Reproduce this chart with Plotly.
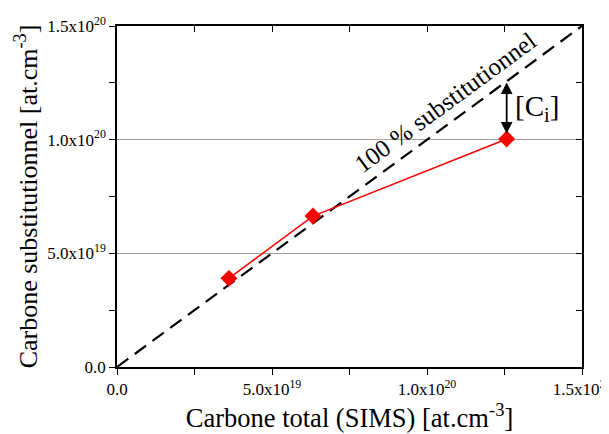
import plotly.graph_objects as go

# Data
carbone_total = [3.61e19, 6.32e19, 1.257e20]
carbone_subst = [3.90e19, 6.64e19, 1.003e20]
ref_x = [0.0, 1.5e20]
ref_y = [0.0, 1.5e20]

x_tickvals = [0.0, 5.0e19, 1.0e20, 1.5e20]
x_ticktext = ["0.0", "5.0x10<sup>19</sup>", "1.0x10<sup>20</sup>", "1.5x10<sup>20</sup>"]
y_tickvals = [0.0, 5.0e19, 1.0e20, 1.5e20]
y_ticktext = ["0.0", "5.0x10<sup>19</sup>", "1.0x10<sup>20</sup>", "1.5x10<sup>20</sup>"]

ci_x = 1.257e20
ci_top = 1.252e20
ci_bottom = 1.02e20

FONT = "Liberation Serif"

fig = go.Figure()

fig.add_trace(go.Scatter(
    x=ref_x, y=ref_y, mode="lines",
    line=dict(color="black", width=2.2, dash="14px,8px"),
    showlegend=False, hoverinfo="skip"))

fig.add_trace(go.Scatter(
    x=carbone_total, y=carbone_subst, mode="lines+markers",
    line=dict(color="#ff0000", width=1.5),
    marker=dict(symbol="diamond", size=13, color="#ff0000"),
    showlegend=False))

# invisible trace for mirror axes
fig.add_trace(go.Scatter(x=ref_x, y=ref_y, xaxis="x2", yaxis="y2",
                         mode="markers", marker=dict(opacity=0),
                         showlegend=False, hoverinfo="skip"))

rng = [0, 1.5e20]
# page body has an 8px default margin: compensate in figure size/margins
fig.update_layout(
    width=601, height=426,
    margin=dict(l=109, r=27, t=18, b=67, autoexpand=False),
    paper_bgcolor="white", plot_bgcolor="white",
    font=dict(family=FONT, color="black"),
    xaxis=dict(range=rng, tickvals=x_tickvals, ticktext=x_ticktext,
               ticks="outside", ticklen=6, tickwidth=1, tickcolor="black",
               minor=dict(tick0=0, dtick=2.5e19, ticks="outside", ticklen=6,
                          tickwidth=1, tickcolor="black", showgrid=False),
               showline=True, linecolor="black", linewidth=1.5,
               showgrid=False, zeroline=False, automargin=False,
               ticklabeloverflow="allow",
               tickfont=dict(family=FONT, size=17),
               title=dict(text="Carbone total (SIMS) [at.cm<sup>-3</sup>]",
                          font=dict(family=FONT, size=26.5), standoff=2)),
    yaxis=dict(range=rng, tickvals=y_tickvals, ticktext=y_ticktext,
               ticks="outside", ticklen=6, tickwidth=1, tickcolor="black",
               minor=dict(tick0=0, dtick=2.5e19, ticks="outside", ticklen=6,
                          tickwidth=1, tickcolor="black", showgrid=False),
               showline=True, linecolor="black", linewidth=1.5,
               showgrid=True, gridcolor="#a0a0a0", gridwidth=1, zeroline=False,
               automargin=False, ticklabeloverflow="allow",
               tickfont=dict(family=FONT, size=17),
               title=dict(text="Carbone substitutionnel [at.cm<sup>-3</sup>]",
                          font=dict(family=FONT, size=26), standoff=2)),
    xaxis2=dict(range=rng, overlaying="x", side="top", anchor="y",
                tickvals=x_tickvals, ticks="inside", ticklen=6,
                minor=dict(tick0=0, dtick=2.5e19, ticks="inside", ticklen=6,
                           tickcolor="black"),
                showticklabels=False, showline=True, linecolor="black",
                linewidth=1.5, showgrid=False, zeroline=False, tickcolor="black"),
    yaxis2=dict(range=rng, overlaying="y", side="right", anchor="x",
                tickvals=y_tickvals, ticks="inside", ticklen=6,
                minor=dict(tick0=0, dtick=2.5e19, ticks="inside", ticklen=6,
                           tickcolor="black"),
                showticklabels=False, showline=True, linecolor="black",
                linewidth=1.5, showgrid=False, zeroline=False, tickcolor="black"),
)

fig.add_annotation(x=1.058e20, y=1.165e20, text="100 % substitutionnel",
                   showarrow=False, textangle=-36.3,
                   font=dict(family=FONT, size=25, color="black"))

fig.add_annotation(x=ci_x, y=ci_top, ax=ci_x, ay=ci_bottom,
                   xref="x", yref="y", axref="x", ayref="y",
                   text="", showarrow=True, arrowhead=2, startarrowhead=2,
                   arrowside="end+start", arrowwidth=1.8, arrowsize=1.3,
                   startarrowsize=1.3, arrowcolor="black")

fig.add_annotation(x=1.355e20, y=1.138e20, text="[C<sub>i</sub>]",
                   showarrow=False,
                   font=dict(family=FONT, size=29, color="black"))

fig.write_html("out.html")
